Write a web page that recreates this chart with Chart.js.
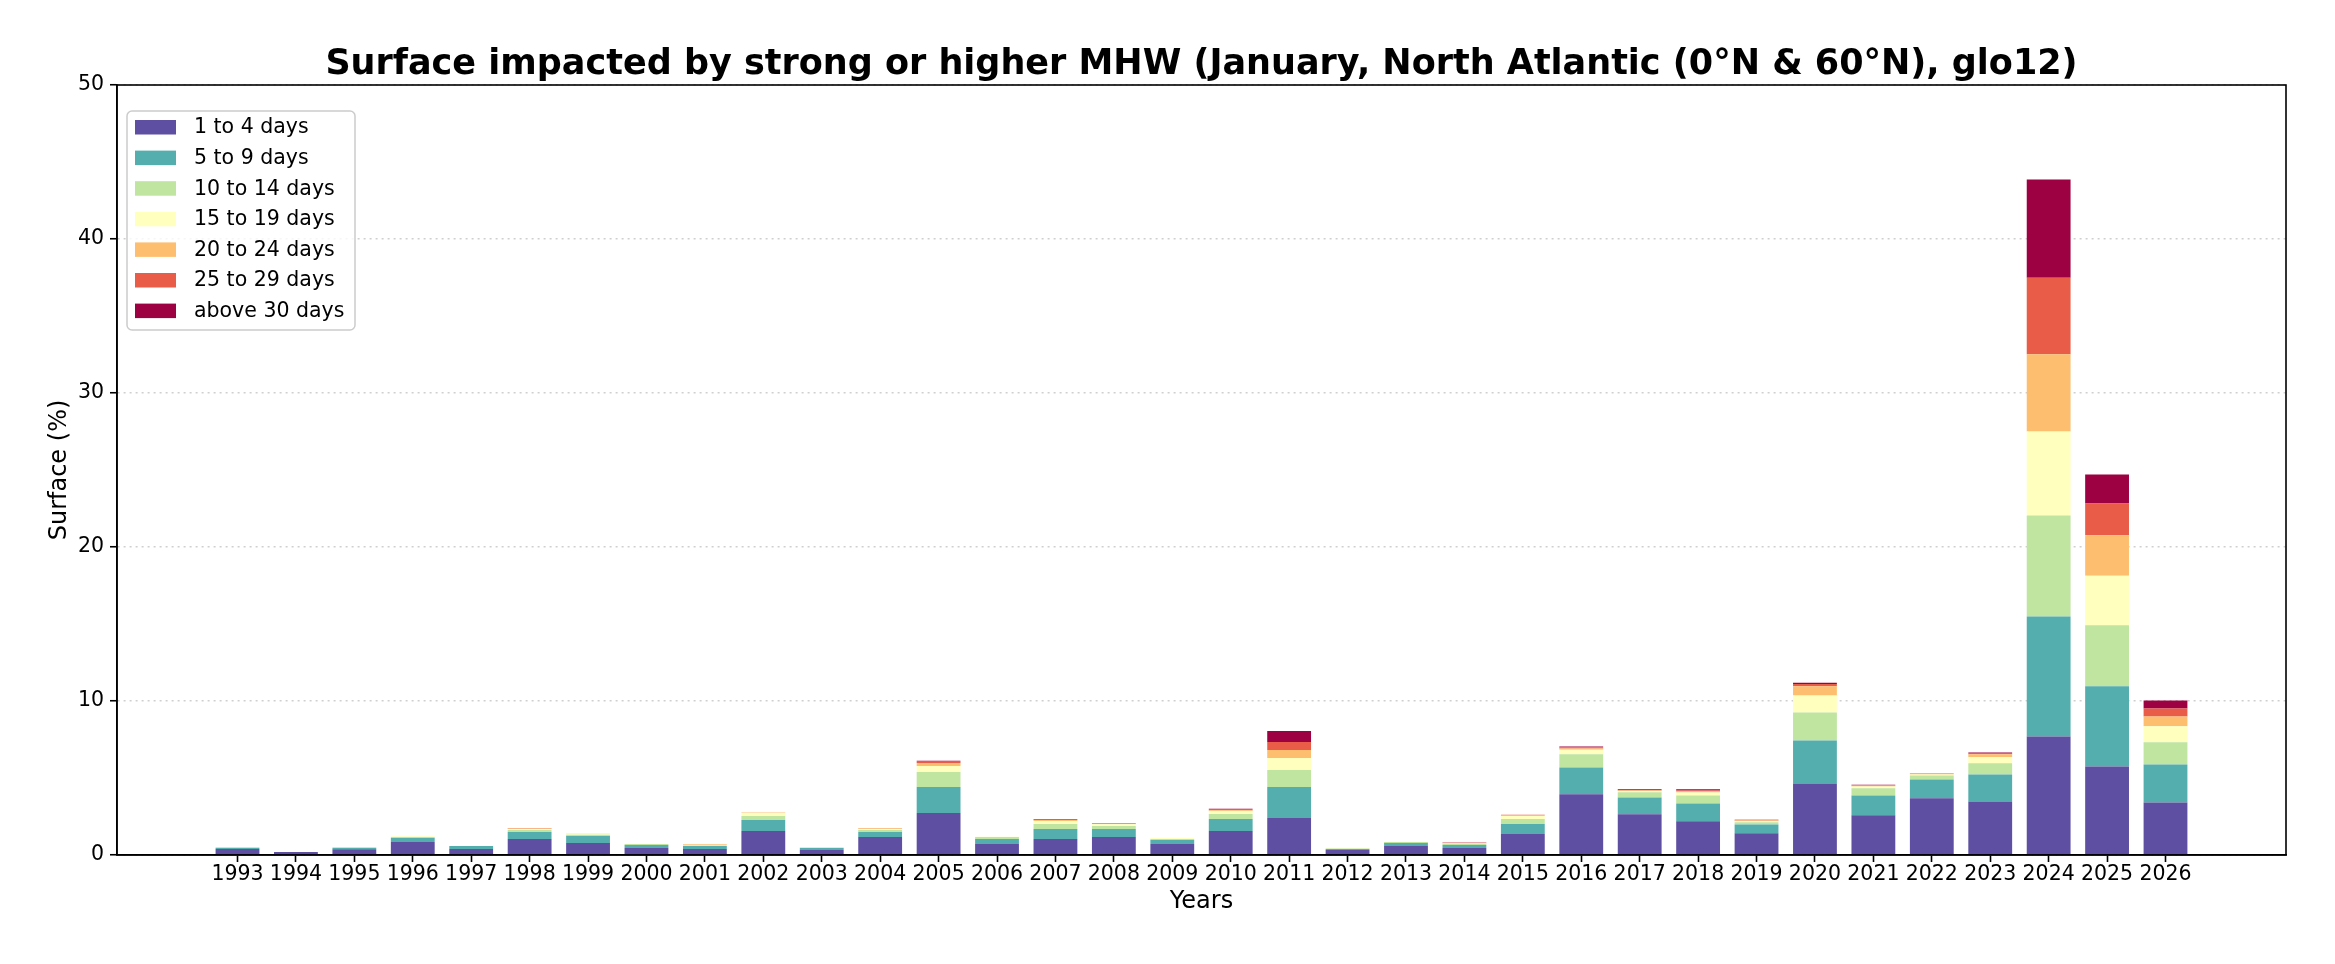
<!DOCTYPE html>
<html lang="en">
<head>
    <meta charset="UTF-8">
    <title>Surface impacted by strong or higher MHW</title>
    <script src="https://cdn.jsdelivr.net/npm/chart.js"></script>
    <style>
        body { margin: 0; background: #fff; }
        canvas { display: block; }
    </style>
</head>
<body>
    <canvas id="myChart" width="2335" height="964"></canvas>

    <script>
        // Years on the x axis
        const years = [1993, 1994, 1995, 1996, 1997, 1998, 1999, 2000, 2001, 2002,
                       2003, 2004, 2005, 2006, 2007, 2008, 2009, 2010, 2011, 2012,
                       2013, 2014, 2015, 2016, 2017, 2018, 2019, 2020, 2021, 2022,
                       2023, 2024, 2025, 2026];

        // Surface (%) per duration class
        const days1to4 = [0.39, 0.19, 0.38, 0.84, 0.39, 1.04, 0.78, 0.45, 0.39, 1.56,
                          0.32, 1.17, 2.73, 0.71, 1.04, 1.17, 0.71, 1.56, 2.40, 0.32,
                          0.58, 0.45, 1.36, 3.95, 2.64, 2.19, 1.41, 4.64, 2.58, 3.68,
                          3.47, 7.70, 5.74, 3.41];
        const days5to9 = [0.06, 0.00, 0.07, 0.26, 0.19, 0.45, 0.45, 0.20, 0.19, 0.71,
                          0.13, 0.32, 1.69, 0.33, 0.65, 0.52, 0.26, 0.78, 2.02, 0.07,
                          0.20, 0.20, 0.65, 1.73, 1.10, 1.16, 0.57, 2.80, 1.28, 1.22,
                          1.76, 7.79, 5.21, 2.47];
        const days10to14 = [0.05, 0.01, 0.05, 0.07, 0.01, 0.13, 0.09, 0.06, 0.04, 0.26,
                            0.04, 0.13, 0.97, 0.13, 0.32, 0.19, 0.07, 0.32, 1.10, 0.04,
                            0.06, 0.07, 0.33, 0.86, 0.33, 0.51, 0.15, 1.81, 0.48, 0.27,
                            0.72, 6.56, 3.97, 1.44];
        const days15to19 = [0.01, 0.00, 0.01, 0.04, 0.00, 0.07, 0.08, 0.01, 0.03, 0.20,
                            0.02, 0.07, 0.39, 0.02, 0.20, 0.11, 0.06, 0.18, 0.78, 0.02,
                            0.01, 0.03, 0.19, 0.30, 0.08, 0.20, 0.06, 1.11, 0.10, 0.05,
                            0.41, 5.45, 3.22, 1.04];
        const days20to24 = [0.00, 0.00, 0.00, 0.01, 0.00, 0.03, 0.01, 0.00, 0.04, 0.03,
                            0.00, 0.04, 0.19, 0.00, 0.06, 0.04, 0.01, 0.06, 0.52, 0.00,
                            0.00, 0.01, 0.07, 0.08, 0.04, 0.06, 0.05, 0.59, 0.05, 0.04,
                            0.18, 5.01, 2.62, 0.63];
        const days25to29 = [0.00, 0.00, 0.00, 0.00, 0.00, 0.04, 0.00, 0.00, 0.00, 0.00,
                            0.00, 0.03, 0.13, 0.00, 0.07, 0.05, 0.00, 0.09, 0.52, 0.00,
                            0.00, 0.04, 0.01, 0.07, 0.03, 0.07, 0.04, 0.15, 0.05, 0.03,
                            0.09, 4.98, 2.06, 0.53];
        const daysAbove30 = [0.00, 0.00, 0.00, 0.00, 0.00, 0.00, 0.00, 0.00, 0.00, 0.00,
                             0.00, 0.00, 0.02, 0.00, 0.00, 0.00, 0.00, 0.01, 0.71, 0.00,
                             0.00, 0.01, 0.00, 0.05, 0.05, 0.08, 0.01, 0.09, 0.02, 0.01,
                             0.02, 6.38, 1.88, 0.51];

        const seriesLabels = ['1 to 4 days', '5 to 9 days', '10 to 14 days', '15 to 19 days',
                              '20 to 24 days', '25 to 29 days', 'above 30 days'];
        const seriesValues = [days1to4, days5to9, days10to14, days15to19,
                              days20to24, days25to29, daysAbove30];
        // Spectral colormap, reversed
        const seriesColors = ['#5e4fa2', '#54aead', '#bfe5a0', '#ffffbe',
                              '#fdbf6f', '#e95c47', '#9e0142'];

        const yTicks = [0, 10, 20, 30, 40, 50];

        const FONT = 'DejaVu Sans';

        const datasets = seriesLabels.map((label, k) => ({
            label: label,
            data: years.map((yr, i) => ({x: yr, y: seriesValues[k][i]})),
            backgroundColor: seriesColors[k],
            borderWidth: 0,
            categoryPercentage: 1.0,
            barPercentage: 0.75,
        }));

        // axes frame (top and right spines) + legend box in upper left
        const framePlugin = {
            id: 'frameAndLegend',
            afterDraw(chart) {
                const {ctx, chartArea: a} = chart;
                ctx.save();
                ctx.strokeStyle = '#000';
                ctx.lineWidth = 1.6;
                ctx.strokeRect(a.left, a.top, a.right - a.left, a.bottom - a.top);

                // legend
                const bx = a.left + 10, by = a.top + 26, bw = 228, bh = 219;
                ctx.fillStyle = 'rgba(255,255,255,0.8)';
                ctx.strokeStyle = '#cccccc';
                ctx.lineWidth = 1.5;
                ctx.beginPath();
                ctx.roundRect(bx, by, bw, bh, 5);
                ctx.fill();
                ctx.stroke();

                ctx.font = '20.5px "' + FONT + '"';
                ctx.textBaseline = 'middle';
                ctx.textAlign = 'left';
                chart.data.datasets.forEach((ds, i) => {
                    const cy = by + 16 + i * 30.6;
                    ctx.fillStyle = ds.backgroundColor;
                    ctx.fillRect(bx + 8, cy - 7, 41, 14.5);
                    ctx.fillStyle = '#000';
                    ctx.fillText(ds.label, bx + 67, cy + 1);
                });
                ctx.restore();
            }
        };

        const config = {
            type: 'bar',
            data: {datasets: datasets},
            options: {
                responsive: false,
                devicePixelRatio: 1,
                animation: false,
                layout: {
                    padding: {left: 0, right: 49, top: 0, bottom: 0}
                },
                plugins: {
                    legend: {display: false},
                    tooltip: {enabled: false},
                    title: {
                        display: true,
                        fullSize: false,
                        text: 'Surface impacted by strong or higher MHW (January, North Atlantic (0°N & 60°N), glo12)',
                        color: '#000',
                        font: {family: FONT, size: 35, weight: 'bold'},
                        padding: {top: 44, bottom: -1}
                    }
                },
                scales: {
                    x: {
                        type: 'linear',
                        stacked: true,
                        min: 1990.9375,
                        max: 2028.0625,
                        offset: false,
                        afterBuildTicks: s => { s.ticks = years.map(v => ({value: v})); },
                        afterFit: s => { s.height = 109; },
                        ticks: {
                            autoSkip: false,
                            maxRotation: 0,
                            padding: 0,
                            color: '#000',
                            font: {family: FONT, size: 20.5},
                            callback: v => String(v)
                        },
                        grid: {
                            offset: false,
                            drawOnChartArea: false,
                            drawTicks: true,
                            tickLength: 7,
                            tickColor: '#000',
                            tickWidth: 1.6
                        },
                        border: {color: '#000', width: 1.6},
                        title: {
                            display: true,
                            text: 'Years',
                            color: '#000',
                            font: {family: FONT, size: 24},
                            padding: {top: 0, bottom: 47.6}
                        }
                    },
                    y: {
                        stacked: true,
                        min: 0,
                        max: 50,
                        afterBuildTicks: s => { s.ticks = yTicks.map(v => ({value: v})); },
                        afterFit: s => { s.width = 117; },
                        ticks: {
                            padding: 6,
                            color: '#000',
                            font: {family: FONT, size: 20.5}
                        },
                        grid: {
                            color: '#cfcfcf',
                            lineWidth: 1.5,
                            tickLength: 7,
                            tickColor: '#000',
                            tickWidth: 1.6
                        },
                        border: {color: '#000', width: 1.6, dash: [2, 4]},
                        title: {
                            display: true,
                            text: 'Surface (%)',
                            color: '#000',
                            font: {family: FONT, size: 24},
                            padding: {top: 45.6, bottom: 0}
                        }
                    }
                }
            },
            plugins: [framePlugin]
        };

        const myChart = new Chart(document.getElementById('myChart'), config);
    </script>
</body>
</html>
